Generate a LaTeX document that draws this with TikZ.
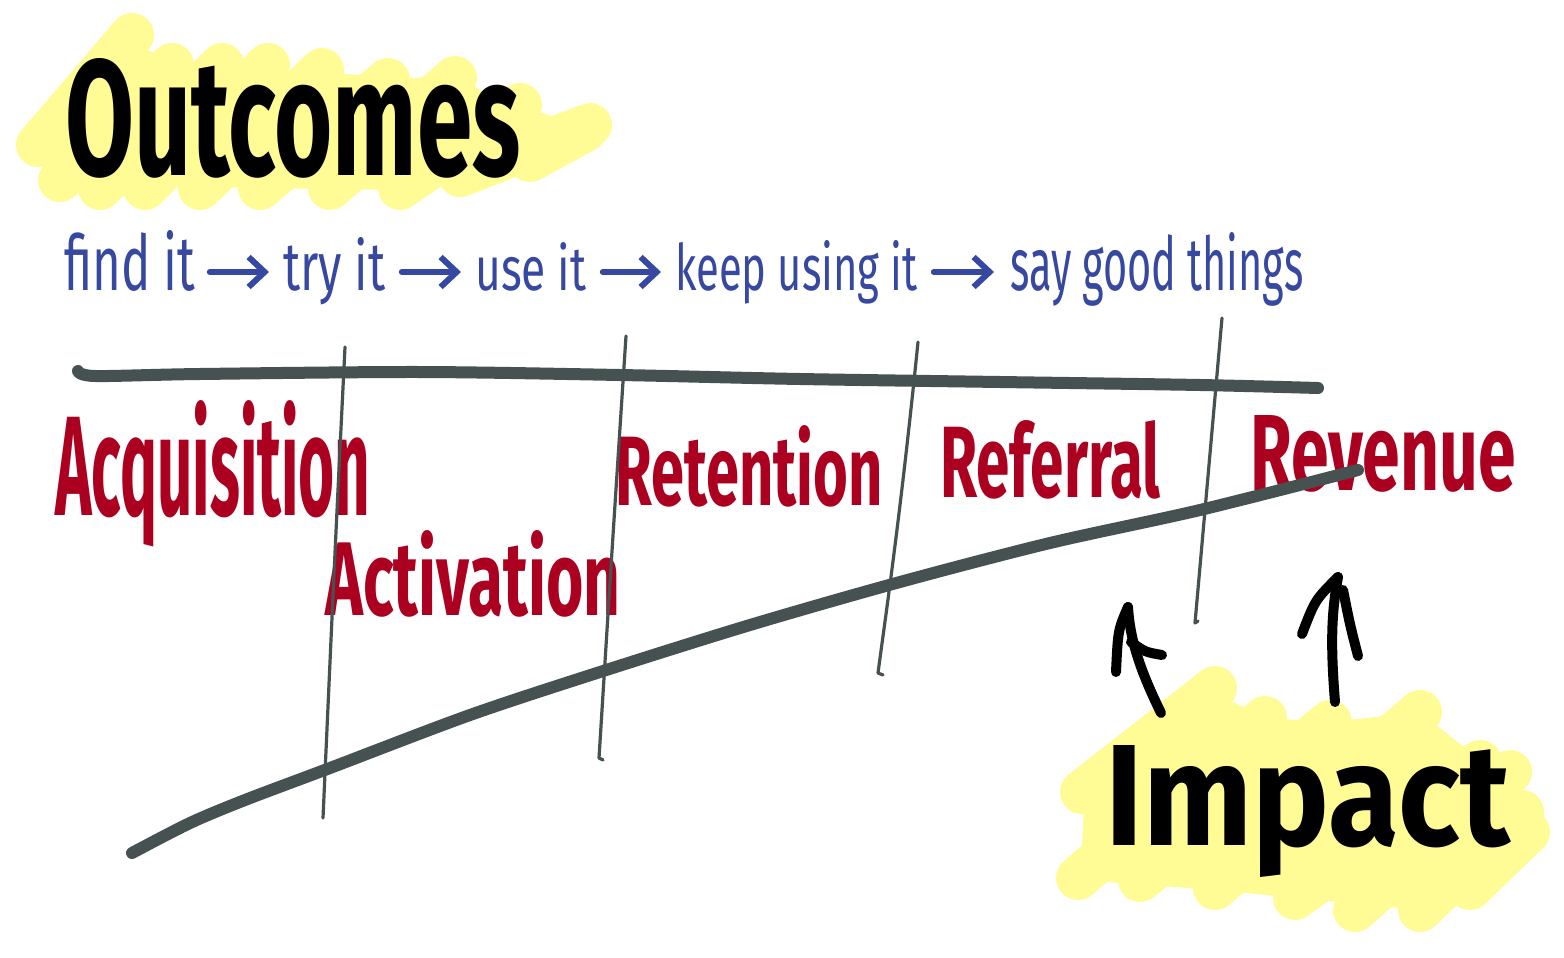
\documentclass[tikz,border=0pt]{standalone}
\usepackage{fontspec}
\setsansfont{Fira Sans}
\usepackage{graphicx}
\usetikzlibrary{arrows.meta,calc}
\newlength\pu \setlength\pu{0.5pt}
\newcommand\fitto[3]{\resizebox{#1\pu}{#2\pu}{#3}}
\definecolor{hl}{RGB}{255,252,150}
\definecolor{ink}{RGB}{70,82,82}
\definecolor{redink}{RGB}{172,0,32}
\definecolor{blueink}{RGB}{55,72,160}
\begin{document}
\begin{tikzpicture}[x=0.5pt,y=-0.5pt,
  hlstroke/.style={draw=hl,line width=22pt,line cap=round},
  hlfill/.style={fill=hl},
  thickline/.style={draw=ink,line width=6pt,line cap=round,line join=round},
  thinline/.style={draw=ink,line width=1.6pt,line cap=round,line join=round},
  redlabel/.style={text=redink,font=\sffamily\bfseries,anchor=base west,inner sep=0pt},
  bluelabel/.style={text=blueink,font=\sffamily,anchor=base west,inner sep=0pt},
  bluearrow/.style={draw=blueink,line width=3pt,line cap=round,-{Straight Barb[length=8pt,width=15pt,line width=3pt]}},
  bigtitle/.style={text=black,font=\sffamily\bfseries,anchor=base west,inner sep=0pt},
  impactarrow/.style={draw=black,line width=5pt,line cap=round}
]
\useasboundingbox (0,0) rectangle (1564,958);
\fill[white] (0,0) rectangle (1564,958);
% highlight behind Outcomes
\fill[hlfill] (45,150) -- (130,40) -- (175,65) -- (455,80) -- (520,105) -- (585,128) -- (540,170) -- (460,180) -- (400,190) -- (60,185) -- cycle;
\foreach \xa/\ya/\xb/\yb in {38/145/132/35, 60/180/172/65, 100/188/222/65, 145/188/268/65, 200/188/322/70, 260/188/388/80, 330/188/455/78, 400/188/520/105, 460/175/590/125, 530/160/585/130}
  \draw[hlstroke] (\xa,\ya) -- (\xb,\yb);
% highlight behind Impact
\fill[hlfill] (1085,790) -- (1210,690) -- (1265,718) -- (1330,722) -- (1420,712) -- (1480,760) -- (1525,815) -- (1470,890) -- (1420,910) -- (1215,890) -- (1080,880) -- cycle;
\foreach \xa/\ya/\xb/\yb in {1082/792/1215/688, 1078/878/1265/718, 1140/880/1330/722, 1215/888/1420/712, 1295/898/1480/762, 1355/910/1510/772, 1420/910/1522/812, 1470/888/1528/832}
  \draw[hlstroke] (\xa,\ya) -- (\xb,\yb);
% titles
\node[bigtitle] (outcomes) at (65,175) {\fitto{455}{117}{Outcomes}};
\node[bigtitle] (impact) at (1105,845) {\fitto{405}{100}{Impact}};
% blue sequence
\node[bluelabel] (find) at (64,290) {\fitto{131}{60}{find it}};
\node[bluelabel] (try) at (283,290) {\fitto{102}{53}{try it}};
\node[bluelabel] (use) at (475,290) {\fitto{111}{48}{use it}};
\node[bluelabel] (keep) at (675,290) {\fitto{242}{50}{keep using it}};
\node[bluelabel] (say) at (1010,290) {\fitto{293}{58}{say good things}};
\draw[bluearrow] ($(find.base east)+(14,-18)$) -- ($(try.base west)+(-14,-18)$);
\draw[bluearrow] ($(try.base east)+(16,-18)$) -- ($(use.base west)+(-14,-18)$);
\draw[bluearrow] ($(use.base east)+(16,-18)$) -- ($(keep.base west)+(-14,-18)$);
\draw[bluearrow] ($(keep.base east)+(16,-18)$) -- ($(say.base west)+(-16,-18)$);
% red stage labels
\node[redlabel] (acq) at (55,515) {\fitto{315}{115}{Acquisition}};
\node[redlabel] (act) at (325,615) {\fitto{295}{85}{Activation}};
\node[redlabel] (ret) at (615,505) {\fitto{267}{80}{Retention}};
\node[redlabel] (ref) at (940,497) {\fitto{220}{77}{Referral}};
\node[redlabel] (rev) at (1250,490) {\fitto{265}{75}{Revenue}};
% thick lines
\draw[thickline] plot[smooth] coordinates {(78,371) (95,376) (200,374) (420,372) (620,375) (800,379) (1000,382) (1200,385) (1318,388)};
\draw[thickline] plot[smooth] coordinates {(132,853) (190,823) (245,800) (330,768) (470,715) (600,672) (750,625) (900,582) (1050,543) (1200,510) (1358,470)};
% thin dividers
\draw[thinline] (345,347) .. controls (335,550) .. (323,818);
\draw[thinline] (626,336) .. controls (612,550) .. (599,758) -- (603,760);
\draw[thinline] (918,342) .. controls (900,520) and (885,620) .. (878,673) -- (883,675);
\draw[thinline] (1222,318) .. controls (1208,470) .. (1195,623) -- (1198,621);
% impact arrows
\coordinate (a1base) at (1161,713);
\coordinate (a1tip) at (1128,607);
\draw[impactarrow] (a1base) .. controls (1140,670) and (1130,640) .. (a1tip);
\draw[impactarrow] (a1tip) .. controls (1118,630) .. (1116,672);
\draw[impactarrow] (1131,642) .. controls (1145,652) .. (1162,655);
\coordinate (a2base) at (1335,702);
\coordinate (a2tip) at (1338,577);
\draw[impactarrow] (a2base) .. controls (1330,640) and (1332,610) .. (a2tip);
\draw[impactarrow] (a2tip) .. controls (1315,600) .. (1302,634);
\draw[impactarrow] (1343,590) .. controls (1350,625) .. (1358,656);
\end{tikzpicture}
\end{document}
